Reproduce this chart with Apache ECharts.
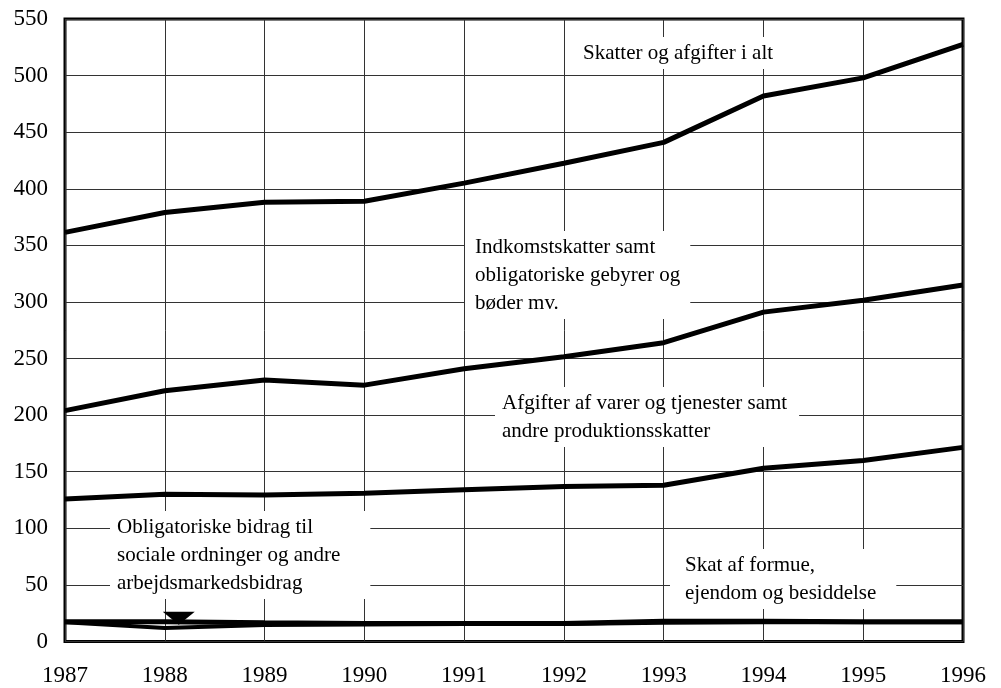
<!DOCTYPE html>
<html>
<head>
<meta charset="utf-8">
<script src="https://cdn.jsdelivr.net/npm/echarts@6/dist/echarts.min.js"></script>
<style>
html,body{margin:0;padding:0;background:#fff;}
#chart{width:1001px;height:688px;}
</style>
</head>
<body>
<div id="chart"></div>
<script>
const years = [1987, 1988, 1989, 1990, 1991, 1992, 1993, 1994, 1995, 1996];
const total = [361.5, 379, 388, 389, 405, 422.5, 441, 482, 498, 527.5];
const income = [204, 221.5, 231, 226.5, 241, 251.5, 264, 291, 301.5, 315];
const goods = [126, 130, 129.5, 131, 134, 137, 138, 153, 160, 171.5];
const social = [17, 12, 14.5, 15, 15.5, 15.5, 16.5, 17, 17, 17];
const wealth = [17.5, 17.5, 16.5, 16, 16, 16, 18, 18, 17.5, 17.5];

const labelTotal = 'Skatter og afgifter i alt';
const labelIncome = 'Indkomstskatter samt\nobligatoriske gebyrer og\nbøder mv.';
const labelGoods = 'Afgifter af varer og tjenester samt\nandre produktionsskatter';
const labelSocial = 'Obligatoriske bidrag til\nsociale ordninger og andre\narbejdsmarkedsbidrag';
const labelWealth = 'Skat af formue,\nejendom og besiddelse';

const FONT = '"Liberation Serif", "Times New Roman", serif';

function pairs(arr){ return years.map((y,i)=>[y, arr[i]]); }

function lineSeries(name, arr, extra){
  return Object.assign({
    name, type:'line', data: pairs(arr), symbol:'none', silent:true,
    lineStyle:{color:'#000', width:5}, z:5
  }, extra||{});
}

function textEl(text, left, top, pad){
  return {
    type:'text', left, top, z:10, silent:true,
    style:{
      text, fill:'#000', font:'21px ' + FONT, lineHeight:28,
      backgroundColor:'#fff', padding:pad
    }
  };
}

const chart = echarts.init(document.getElementById('chart'), null, {renderer:'canvas'});
chart.setOption({
  backgroundColor:'#fff',
  animation:false,
  grid:{left:65, right:38, top:19, bottom:46.5, show:true, borderColor:'#000', borderWidth:3, backgroundColor:'transparent'},
  xAxis:{
    type:'value', min:1987, max:1996, interval:1,
    axisLine:{show:false}, axisTick:{show:false},
    axisLabel:{formatter:v=>String(v), color:'#000', fontFamily:FONT, fontSize:23, margin:23},
    splitLine:{show:true, lineStyle:{color:'#333', width:1}}
  },
  yAxis:{
    type:'value', min:0, max:550, interval:50,
    axisLine:{show:false}, axisTick:{show:false},
    axisLabel:{color:'#000', fontFamily:FONT, fontSize:23, margin:17},
    splitLine:{show:true, lineStyle:{color:'#333', width:1}}
  },
  series:[
    lineSeries('total', total),
    lineSeries('income', income),
    lineSeries('goods', goods),
    lineSeries('social', social, {lineStyle:{color:'#000', width:4},
      markPoint:{symbol:'triangle', symbolRotate:180, symbolSize:[32,13], silent:true,
        itemStyle:{color:'#000'}, label:{show:false},
        data:[{coord:[1988.14, 20.5]}]}}),
    lineSeries('wealth', wealth)
  ],
  graphic:[
    textEl(labelTotal, 580, 37, [2,6,2,3]),
    textEl(labelIncome, 465, 231, [2,10,2,10]),
    textEl(labelGoods, 495, 387, [2,12,2,7]),
    textEl(labelSocial, 110, 511, [2,30,2,7]),
    textEl(labelWealth, 670, 549, [2,20,2,15])
  ]
});
</script>
</body>
</html>
